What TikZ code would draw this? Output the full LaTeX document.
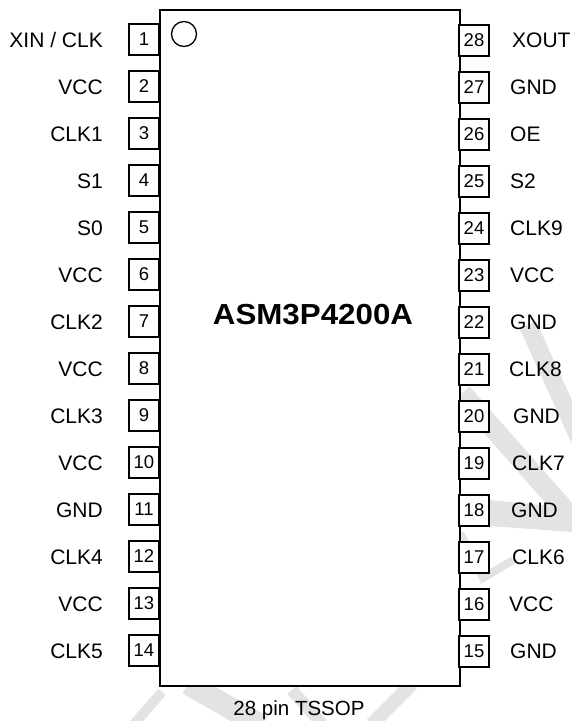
\documentclass[tikz,border=0pt]{standalone}
\usepackage{fontspec}
\setmainfont{Liberation Sans}
\begin{document}
\begin{tikzpicture}[x=1pt,y=-1pt,
  pinbox/.style={draw,line width=1.6pt,fill=white,minimum width=30pt,minimum height=31pt,inner sep=0pt,font=\fontsize{18.5}{18.5}\selectfont},
  pinlabel/.style={inner sep=0pt,font=\fontsize{21}{24}\selectfont},
  wm/.style={line width=#1, draw=black!11, line cap=butt}]
\useasboundingbox (0,0) rectangle (572,721);
% watermark (faint)
\draw[wm=18pt] (528,325) -- (580,440);
\draw[wm=20pt] (462,393) -- (580,527);
\fill[black!11] (490,500) -- (572,508) -- (572,532) -- (490,526) -- cycle;
\draw[wm=8pt] (460,533) -- (483,578) -- (513,560);
\draw[wm=6pt] (468,593) -- (478,600);
\draw[wm=10pt] (162,692) -- (134,724);
\draw[wm=22pt] (188,684) -- (262,726);
\draw[wm=12pt] (292,690) -- (322,724);
\draw[wm=14pt] (412,684) -- (372,724);
% chip body
\node[draw,line width=1.6pt,fill=white,minimum width=300pt,minimum height=676pt,inner sep=0pt,anchor=north west] (chip) at (159,9) {};
\draw[line width=1.3pt] (184,34) circle[radius=12.5pt];
\node[inner sep=0pt,font=\fontsize{29}{30}\selectfont\bfseries] (title) at (313,315) {\scalebox{1.08}[1]{ASM3P4200A}};
\node[inner sep=0pt,font=\fontsize{20.5}{24}\selectfont] (pkg) at (299,710) {28 pin TSSOP};
% left pins
\foreach \n/\t in {1/{XIN / CLK},2/VCC,3/CLK1,4/S1,5/S0,6/VCC,7/CLK2,8/VCC,9/CLK3,10/VCC,11/GND,12/CLK4,13/VCC,14/CLK5}{
  \node[pinbox] (P\n) at (144,{39.5+(\n-1)*47}) {\n};
  \node[pinlabel,anchor=base east] (T\n) at (103,{39.5+(\n-1)*47+8}) {\t};
}
% right pins
\foreach \n/\t/\d in {28/XOUT/2,27/GND/0,26/OE/0,25/S2/0,24/CLK9/0,23/VCC/0,22/GND/0,21/CLK8/-1,20/GND/3,19/CLK7/2,18/GND/1,17/CLK6/2,16/VCC/-1,15/GND/0}{
  \node[pinbox] (P\n) at (474,{40.5+(28-\n)*47}) {\n};
  \node[pinlabel,anchor=base west] (T\n) at ({510+\d},{40.5+(28-\n)*47+6.5}) {\t};
}
\end{tikzpicture}
\end{document}
